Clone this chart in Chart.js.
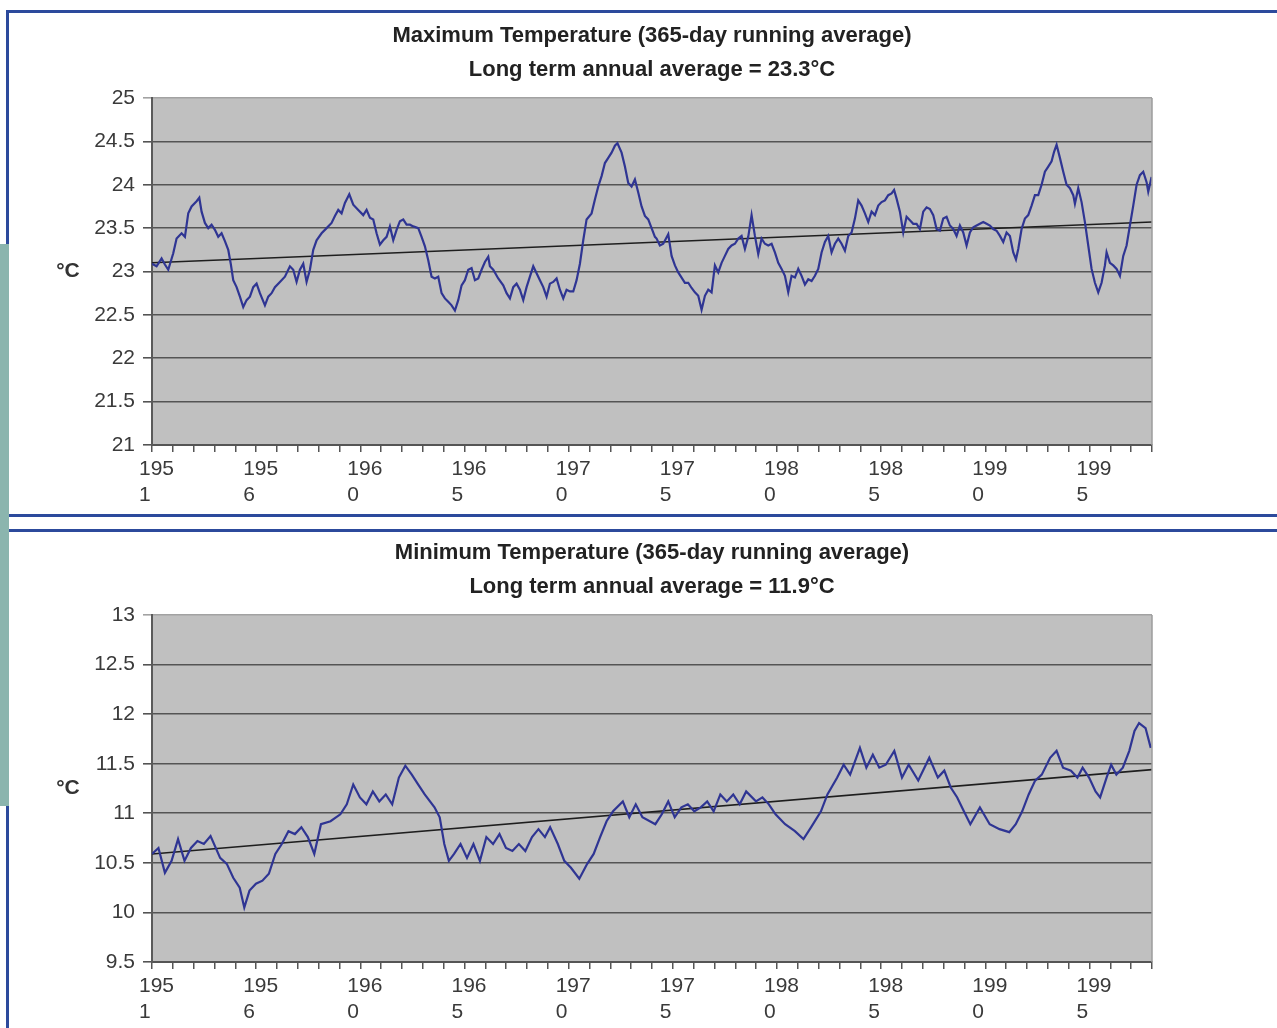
<!DOCTYPE html>
<html>
<head>
<meta charset="utf-8">
<script src="https://cdn.jsdelivr.net/npm/chart.js@4.4.1/dist/chart.umd.min.js"></script>
<style>
html,body{margin:0;padding:0;background:#fff;}
body{width:1277px;height:1028px;overflow:hidden;position:relative;}
canvas{position:absolute;left:0;}
.bl{position:absolute;background:#2c4a9c;}
.teal{position:absolute;background:#8bb5ae;}
</style>
</head>
<body>
<canvas id="cMax" width="1277" height="514" style="top:0px;width:1277px;height:514px"></canvas>
<canvas id="cMin" width="1277" height="498" style="top:530px;width:1277px;height:498px"></canvas>
<div class="bl" style="left:6px;top:10px;width:1271px;height:3px"></div>
<div class="bl" style="left:6px;top:514px;width:1271px;height:3px"></div>
<div class="bl" style="left:6px;top:529px;width:1271px;height:3px"></div>
<div class="bl" style="left:6px;top:10px;width:3px;height:1018px"></div>
<div class="teal" style="left:0px;top:244px;width:9px;height:562px"></div>
<script>
// x-axis labels (every 5th yearly tick), as printed on the original
const xTickLabels = ['1951','1956','1960','1965','1970','1975','1980','1985','1990','1995'];

// Maximum temperature, 365-day running average: time (years since start of record) and value (°C)
const maxT = [0,0.22,0.46,0.62,0.78,1.02,1.18,1.42,1.58,1.74,1.90,2.14,2.27,2.38,2.54,2.70,2.86,3.02,3.18,3.34,3.50,3.66,3.78,3.90,4.06,4.22,4.38,4.54,4.70,4.86,5.02,5.18,5.42,5.58,5.74,5.90,6.14,6.38,6.62,6.78,6.94,7.10,7.26,7.42,7.58,7.74,7.90,8.14,8.38,8.62,8.78,8.94,9.10,9.26,9.47,9.66,9.90,10.14,10.30,10.46,10.62,10.78,10.94,11.10,11.26,11.42,11.58,11.74,11.90,12.06,12.22,12.38,12.54,12.78,12.94,13.10,13.26,13.42,13.58,13.74,13.90,14.06,14.22,14.38,14.54,14.70,14.86,15.02,15.18,15.34,15.50,15.66,15.82,15.98,16.14,16.22,16.38,16.62,16.86,17.02,17.18,17.34,17.50,17.66,17.82,17.98,18.14,18.30,18.46,18.62,18.78,18.94,19.10,19.26,19.42,19.58,19.74,19.90,20.06,20.22,20.38,20.54,20.70,20.86,21.10,21.26,21.42,21.58,21.74,21.90,22.06,22.22,22.34,22.54,22.70,22.86,23.02,23.18,23.34,23.50,23.66,23.82,23.98,24.14,
  24.22,24.38,24.54,24.78,24.94,25.10,25.26,25.42,25.58,25.74,25.90,26.06,26.22,26.38,26.54,26.70,26.86,27.02,27.18,27.34,27.50,27.66,27.82,27.98,28.14,28.30,28.46,28.62,28.78,28.94,29.10,29.26,29.42,29.58,29.74,29.90,30.06,30.22,30.38,30.54,30.70,30.86,31.02,31.18,31.34,31.50,31.66,31.82,31.98,32.14,32.30,32.46,32.62,32.78,32.94,33.10,33.26,33.42,33.58,33.74,33.90,34.06,34.22,34.38,34.54,34.70,34.86,35.02,35.18,35.34,35.50,35.62,35.74,35.90,36.06,36.22,36.38,36.54,36.70,36.86,37.02,37.18,37.34,37.50,37.66,37.82,37.98,38.14,38.30,38.46,38.62,38.78,38.94,39.10,39.26,39.42,39.58,39.74,39.90,40.06,40.22,40.38,40.54,40.70,40.86,41.02,41.18,41.34,41.47,41.58,41.74,41.90,42.06,42.22,42.38,42.54,42.70,42.86,43.02,43.18,43.30,43.42,43.58,43.74,43.90,44.06,44.22,44.30,44.46,44.62,44.78,44.94,45.10,45.26,45.42,45.58,45.74,45.82,45.98,46.14,46.30,46.46,46.62,46.78,46.94,47.10,47.26,47.42,47.58,47.74,47.82,47.98];
const maxTemp = [23.09,23.06,23.15,23.08,23.02,23.21,23.38,23.44,23.40,23.67,23.75,23.81,23.85,23.69,23.56,23.50,23.54,23.48,23.40,23.44,23.35,23.25,23.09,22.90,22.82,22.71,22.59,22.67,22.71,22.82,22.86,22.75,22.61,22.71,22.75,22.82,22.88,22.94,23.06,23.02,22.88,23.02,23.09,22.88,23.02,23.25,23.36,23.44,23.50,23.56,23.64,23.71,23.67,23.79,23.89,23.77,23.71,23.65,23.71,23.62,23.60,23.44,23.31,23.36,23.40,23.52,23.36,23.48,23.58,23.60,23.54,23.54,23.52,23.50,23.40,23.29,23.13,22.94,22.92,22.94,22.75,22.69,22.65,22.61,22.55,22.67,22.84,22.90,23.02,23.04,22.90,22.92,23.02,23.11,23.17,23.06,23.02,22.92,22.84,22.75,22.69,22.82,22.86,22.79,22.67,22.82,22.94,23.06,22.98,22.90,22.82,22.71,22.86,22.88,22.92,22.79,22.69,22.79,22.77,22.77,22.90,23.09,23.36,23.60,23.67,23.83,23.98,24.10,24.25,24.31,24.37,24.45,24.48,24.37,24.21,24.02,23.98,24.06,23.91,23.75,23.64,23.60,23.50,23.40,
  23.38,23.30,23.32,23.43,23.18,23.07,22.99,22.93,22.87,22.87,22.81,22.76,22.72,22.56,22.72,22.79,22.76,23.07,22.99,23.10,23.18,23.26,23.30,23.32,23.38,23.41,23.26,23.40,23.65,23.41,23.20,23.38,23.32,23.30,23.32,23.22,23.10,23.03,22.95,22.76,22.95,22.93,23.03,22.95,22.85,22.91,22.89,22.95,23.03,23.22,23.34,23.41,23.22,23.32,23.38,23.32,23.24,23.41,23.45,23.61,23.82,23.76,23.67,23.57,23.69,23.65,23.76,23.80,23.82,23.88,23.90,23.94,23.84,23.69,23.45,23.63,23.59,23.55,23.55,23.49,23.69,23.74,23.72,23.65,23.49,23.47,23.61,23.63,23.53,23.49,23.41,23.53,23.45,23.30,23.45,23.51,23.53,23.55,23.57,23.55,23.53,23.49,23.47,23.41,23.34,23.45,23.41,23.22,23.14,23.26,23.49,23.61,23.65,23.76,23.88,23.88,24.00,24.15,24.21,24.27,24.38,24.46,24.31,24.15,24.00,23.96,23.88,23.78,23.96,23.80,23.57,23.30,23.03,22.87,22.76,22.87,23.07,23.22,23.10,23.07,23.03,22.95,23.18,23.30,23.53,23.76,24.00,24.11,24.15,24.03,23.92,24.09];
const maxTrendT = [0, 48];
const maxTrendTemp = [23.10, 23.57];

// Minimum temperature, 365-day running average
const minT = [0,0.31,0.62,0.94,1.25,1.56,1.87,2.18,2.49,2.81,3.27,3.59,3.90,4.21,4.43,4.68,4.99,5.30,5.61,5.92,6.23,6.55,6.86,7.17,7.48,7.79,8.11,8.57,9.04,9.35,9.66,9.98,10.29,10.60,10.91,11.22,11.53,11.85,12.16,12.47,12.78,13.09,13.56,13.81,14.03,14.25,14.50,14.81,15.12,15.43,15.74,16.05,16.37,16.68,16.99,17.30,17.61,17.92,18.24,18.55,18.86,19.11,19.48,19.79,20.11,20.51,20.89,21.20,21.51,21.82,22.13,22.60,22.91,23.22,23.54,24.16,24.47,24.78,25.09,25.41,25.72,26.03,26.34,26.65,26.96,27.28,27.59,27.90,28.21,28.52,28.99,29.30,29.61,29.93,30.39,30.86,31.27,31.64,32.11,32.42,32.89,33.20,33.51,33.98,34.29,34.60,34.91,35.22,35.63,36.00,36.32,36.78,37.31,37.72,38.03,38.34,38.65,38.97,39.28,39.74,40.21,40.68,41.15,41.46,41.77,42.08,42.39,42.71,43.11,43.42,43.73,44.11,44.42,44.67,44.98,45.29,45.51,45.82,46.04,46.29,46.60,46.91,47.16,47.38,47.69,47.94];
const minTemp = [10.59,10.65,10.40,10.52,10.74,10.52,10.65,10.72,10.69,10.77,10.55,10.49,10.35,10.25,10.05,10.22,10.29,10.32,10.39,10.59,10.69,10.82,10.79,10.86,10.76,10.59,10.89,10.92,10.99,11.09,11.29,11.16,11.09,11.22,11.12,11.19,11.09,11.36,11.48,11.39,11.29,11.19,11.06,10.96,10.69,10.52,10.59,10.69,10.55,10.69,10.52,10.76,10.69,10.79,10.65,10.62,10.69,10.62,10.76,10.84,10.76,10.86,10.69,10.52,10.45,10.34,10.49,10.59,10.76,10.92,11.02,11.12,10.96,11.09,10.96,10.89,10.99,11.12,10.96,11.06,11.09,11.02,11.06,11.12,11.02,11.19,11.12,11.19,11.09,11.22,11.12,11.16,11.09,10.99,10.89,10.82,10.74,10.86,11.02,11.19,11.36,11.49,11.39,11.66,11.46,11.59,11.46,11.49,11.63,11.36,11.49,11.33,11.56,11.36,11.43,11.26,11.16,11.02,10.89,11.06,10.89,10.84,10.81,10.89,11.02,11.19,11.33,11.39,11.56,11.63,11.46,11.43,11.36,11.46,11.36,11.22,11.16,11.36,11.49,11.39,11.46,11.63,11.83,11.91,11.86,11.66];
const minTrendT = [0, 48];
const minTrendTemp = [10.59, 11.44];

const FONT = "'Liberation Sans', Arial, Helvetica, sans-serif";
const SPAN_YEARS = 48;

function pts(xs, ys) { return xs.map((x, i) => ({x: x, y: ys[i]})); }

const panelPlugin = {
  id: 'panelDecor',
  beforeDraw(chart) {
    const {ctx, chartArea: a} = chart;
    ctx.save();
    ctx.fillStyle = '#c0c0c0';
    ctx.fillRect(a.left, a.top, a.right - a.left, a.bottom - a.top);
    ctx.restore();
  },
  afterDraw(chart) {
    const {ctx, chartArea: a} = chart;
    ctx.save();
    ctx.strokeStyle = '#9c9c9c';
    ctx.lineWidth = 1.5;
    ctx.beginPath();
    ctx.moveTo(a.right, a.top);
    ctx.lineTo(a.right, a.bottom);
    ctx.stroke();
    ctx.fillStyle = '#333';
    ctx.font = 'bold 21px ' + FONT;
    ctx.textAlign = 'center';
    ctx.textBaseline = 'middle';
    ctx.fillText('°C', 68, (a.top + a.bottom) / 2);
    ctx.restore();
  }
};

function makeChart(id, cfg) {
  const ctx = document.getElementById(id);
  return new Chart(ctx, {
    type: 'line',
    data: {
      datasets: [
        {data: pts(cfg.t, cfg.v), borderColor: '#2f3593', borderWidth: 2.2, pointRadius: 0, tension: 0, fill: false},
        {data: pts(cfg.trendT, cfg.trendV), borderColor: '#1e1e1e', borderWidth: 1.6, pointRadius: 0, tension: 0, fill: false}
      ]
    },
    options: {
      responsive: false,
      animation: false,
      devicePixelRatio: 1,
      layout: {padding: {left: 0, right: 125, top: 0, bottom: 0}},
      plugins: {
        legend: {display: false},
        tooltip: {enabled: false},
        title: {
          display: true, text: cfg.title, color: '#222', fullSize: false,
          font: {family: FONT, size: 22, weight: 'bold', lineHeight: 1.2},
          padding: {top: cfg.titlePadTop, bottom: 0}
        },
        subtitle: {
          display: true, text: cfg.subtitle, color: '#222', fullSize: false,
          font: {family: FONT, size: 22, weight: 'bold', lineHeight: 1.2},
          padding: {top: 7.8, bottom: 15.1}
        }
      },
      scales: {
        x: {
          type: 'linear', min: 0, max: SPAN_YEARS,
          afterFit(s) { s.height = cfg.xAxisHeight; },
          afterBuildTicks(s) {
            const t = [];
            for (let i = 0; i <= SPAN_YEARS; i++) t.push({value: i});
            s.ticks = t;
          },
          ticks: {
            autoSkip: false, maxRotation: 0, minRotation: 0,
            align: 'start', labelOffset: -13, padding: 4,
            color: '#3a3a3a',
            font: {family: FONT, size: 21, lineHeight: 1.26},
            callback(v) {
              if (v % 5 !== 0) return '';
              const s = xTickLabels[v / 5];
              return s ? [s.slice(0, 3), s.slice(3)] : '';
            }
          },
          grid: {drawOnChartArea: false, drawTicks: true, tickLength: 7, color: '#555', lineWidth: 1.5},
          border: {display: true, color: '#555', width: 2}
        },
        y: {
          type: 'linear', min: cfg.ymin, max: cfg.ymax,
          afterFit(s) { s.width = 152; },
          ticks: {
            stepSize: 0.5, padding: 8, color: '#3a3a3a',
            font: {family: FONT, size: 21},
            callback: (v) => String(Math.round(v * 10) / 10)
          },
          grid: {
            drawTicks: true, tickLength: 9, lineWidth: 1.6,
            color: (c) => (c.tick && c.tick.value === cfg.ymax) ? '#a2a2a2' : '#545454'
          },
          border: {display: true, color: '#5a5a5a', width: 2}
        }
      }
    },
    plugins: [panelPlugin]
  });
}

makeChart('cMax', {
  t: maxT, v: maxTemp, trendT: maxTrendT, trendV: maxTrendTemp,
  title: 'Maximum Temperature (365-day running average)',
  subtitle: 'Long term annual average = 23.3°C',
  titlePadTop: 22.3, xAxisHeight: 69, ymin: 21, ymax: 25
});
makeChart('cMin', {
  t: minT, v: minTemp, trendT: minTrendT, trendV: minTrendTemp,
  title: 'Minimum Temperature (365-day running average)',
  subtitle: 'Long term annual average = 11.9°C',
  titlePadTop: 9.3, xAxisHeight: 66, ymin: 9.5, ymax: 13
});
</script>
</body>
</html>
